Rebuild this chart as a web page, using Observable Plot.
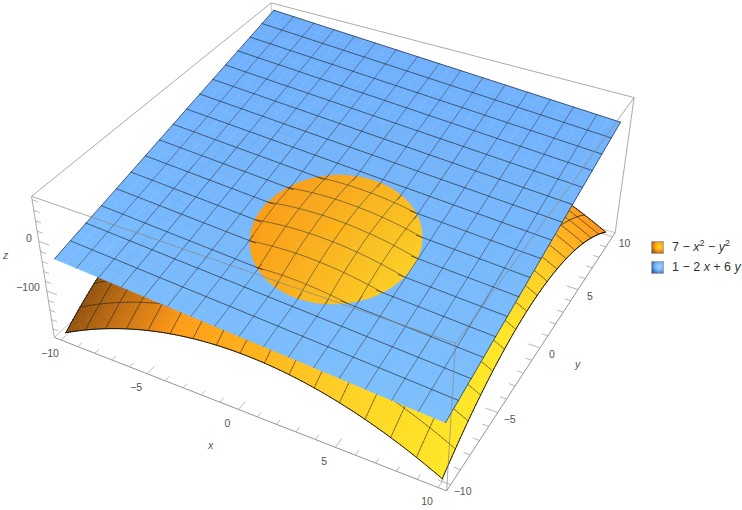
<!DOCTYPE html>
<html><head><meta charset="utf-8">
<script src="https://cdn.jsdelivr.net/npm/d3@7"></script>
<script src="https://cdn.jsdelivr.net/npm/@observablehq/plot@0.6"></script>
<style>
html,body{margin:0;padding:0;background:#fff}
#wrap{position:relative;width:742px;height:510px;overflow:hidden}
#legend{position:absolute;left:651px;top:237px;font:12.5px "Liberation Sans",Arial,sans-serif;color:#333}
.row{display:flex;align-items:center;height:20px;white-space:nowrap}
.sw{width:13px;height:13px;margin-right:8px;border:.5px solid #aaa;box-sizing:border-box}
.row i{font-style:italic}
.row sup{font-size:9px;line-height:0;vertical-align:5px}
</style></head><body><div id="wrap"><div id="legend">
<div class="row"><span class="sw" style="background:radial-gradient(circle at 65% 40%,#ffe020 0,#ff9c14 45%,#6a3c06 100%)"></span><span>7 − <i>x</i><sup>2</sup> − <i>y</i><sup>2</sup></span></div>
<div class="row"><span class="sw" style="background:radial-gradient(circle at 65% 40%,#a8dcff 0,#6fb0ff 45%,#1d3c78 100%)"></span><span>1 − 2 <i>x</i> + 6 <i>y</i></span></div>
</div></div>
<script>
// ---- data ----
const meshCount = 16;
const xyMajor = [-10, -5, 0, 5, 10];
const xyMinor = d3.range(-10, 10.5, 1);
const zMajor = [0, -100];
const zMinor = [-180,-160,-140,-120,-100,-80,-60,-40,-20,0,20,40,60,80];
const boxXY = 10.4, zLow = -198.5, zTop = 86.5;
const fOrange = (x, y) => 7 - x*x - y*y;   // from the legend
const fBlue = (x, y) => 1 - 2*x + 6*y;     // from the legend
// reference points: x, y, z, seen at px, py (camera calibration)
const calib = [
 [-10.4,-10.4,-198.5,53,337],[-10.4,-10.4,86.5,31,195.7],
 [10.4,-10.4,-198.5,445.7,490],[10.4,-10.4,86.5,455,343.3],
 [10.4,10.4,-198.5,615,232.3],[10.4,10.4,86.5,633.3,96.7],
 [-10.4,10.4,86.5,270.7,2.3],
 [-10,-10,-193,65.7,332.3],[10,-10,-193,442.3,478.3],[10,10,-193,605,231.7],
 [-10,-10,-39,54.3,258.3],[10,-10,-79,445,422.3],[10,10,41,620,121.7],[-10,10,81,273.3,10]
];
// ---- camera by least squares ----
function solve(A, b){
  const n=b.length, M=A.map((r,i)=>[...r,b[i]]);
  for(let i=0;i<n;i++){
    let p=i; for(let k=i+1;k<n;k++) if(Math.abs(M[k][i])>Math.abs(M[p][i])) p=k;
    [M[i],M[p]]=[M[p],M[i]];
    for(let k=i+1;k<n;k++){const f=M[k][i]/M[i][i]; for(let j=i;j<=n;j++) M[k][j]-=f*M[i][j];}
  }
  const s=Array(n).fill(0);
  for(let i=n-1;i>=0;i--){let v=M[i][n]; for(let j=i+1;j<n;j++) v-=M[i][j]*s[j]; s[i]=v/M[i][i];}
  return s;
}
const rows=[],rhs=[];
for(const [x,y,z,u,v] of calib){
  const X=x/10,Y=y/10,Z=z/100,U=u/742,V=v/510;
  rows.push([X,Y,Z,1,0,0,0,0,-U*X,-U*Y,-U*Z]);rhs.push(U);
  rows.push([0,0,0,0,X,Y,Z,1,-V*X,-V*Y,-V*Z]);rhs.push(V);
}
const AtA=d3.range(11).map(i=>d3.range(11).map(j=>d3.sum(rows,r=>r[i]*r[j])));
const Atb=d3.range(11).map(i=>d3.sum(rows,(r,k)=>r[i]*rhs[k]));
const c=solve(AtA,Atb);
const W=(x,y,z)=>c[8]*x/10+c[9]*y/10+c[10]*z/100+1;
const P=(x,y,z)=>{const X=x/10,Y=y/10,Z=z/100,w=c[8]*X+c[9]*Y+c[10]*Z+1;
  return {px:742*(c[0]*X+c[1]*Y+c[2]*Z+c[3])/w, py:510*(c[4]*X+c[5]*Y+c[6]*Z+c[7])/w};};
// ---- colours ----
const ramp=d3.scaleLinear().domain([-10,-5,0,5,10]).range(["#ff8a0e","#ff9210","#ffac16","#ffd020","#ffe622"]).clamp(true);
function orangeColor(x,y){
  const g=1.2*Math.max(0,y+3)*Math.min(1,Math.max(0,(x+2)/12))**2;
  const base=d3.rgb(ramp(x-g));
  const d=Math.min(1,0.56+0.44*(x+10)/6.5);
  return d3.rgb(base.r*d,base.g*d,base.b*d).formatHex();
}
const blueRamp=d3.scaleLinear().domain([-79,81]).range(["#7dc0ff","#6eaefc"]);
const blueColor=(x,y)=>blueRamp(fBlue(x,y));
// ---- geometry through the camera ----
let id=0;
function quad(out,corners,color){const k=id++;for(const [x,y,z] of corners) out.push({...P(x,y,z),id:k,color});}
const fine=128, step=20/fine;
const zs=d3.range(0,fine+1).map(i=>-10+i*step);
// orange surface: filled cells and mesh segments painted far to near, so folded-away mesh stays hidden
const items=[];
const dW=(Math.abs(c[8])+Math.abs(c[9]))*step/10+Math.abs(c[10])*20*step/100;
for(let i=0;i<fine;i++)for(let j=0;j<fine;j++){
  const x=zs[i],y=zs[j],s=step,mx=x+s/2,my=y+s/2,col=orangeColor(mx,my);
  items.push({key:W(mx,my,fOrange(mx,my)),corners:[[x,y],[x+s,y],[x+s,y+s],[x,y+s]],fill:col,stroke:col,sw:.5});
}
const gridVals=d3.range(0,meshCount+1).map(i=>-10+20*i/meshCount);
for(const m of gridVals){
  const border=m===-10||m===10;
  const stroke=border?"rgba(17,17,17,1)":"rgba(34,34,34,.65)",sw=border?.9:.8;
  for(let i=0;i<fine;i++){
    const a=zs[i],bb=zs[i+1],mid=(a+bb)/2;
    items.push({key:W(m,mid,fOrange(m,mid))-2*dW,corners:[[m,a],[m,bb]],fill:"none",stroke,sw});
    items.push({key:W(mid,m,fOrange(mid,m))-2*dW,corners:[[a,m],[bb,m]],fill:"none",stroke,sw});
  }
}
items.sort((a,b)=>b.key-a.key);
const orangePts=[];
for(const it of items){const k=id++;for(const [x,y] of it.corners) orangePts.push({...P(x,y,fOrange(x,y)),id:k,fill:it.fill,stroke:it.stroke,sw:it.sw});}
const bluePts=[];
const bn=32,bs=20/bn;
for(let i=0;i<bn;i++)for(let j=0;j<bn;j++){
  const x=-10+i*bs,y=-10+j*bs,s=bs;
  quad(bluePts,[[x,y,fBlue(x,y)],[x+s,y,fBlue(x+s,y)],[x+s,y+s,fBlue(x+s,y+s)],[x,y+s,fBlue(x,y+s)]],blueColor(x+s/2,y+s/2));}
// the part of the orange surface above the plane: disc (x-1)^2+(y+3)^2<16
const capPts=[];
const nr=24,nt=90;
for(let i=0;i<nr;i++)for(let j=0;j<nt;j++){
  const r0=4*i/nr,r1=4*(i+1)/nr,t0=2*Math.PI*j/nt,t1=2*Math.PI*(j+1)/nt;
  const pt=(r,t)=>{const x=1+r*Math.cos(t),y=-3+r*Math.sin(t);return [x,y,fOrange(x,y)];};
  const rm=(r0+r1)/2,tm=(t0+t1)/2;
  quad(capPts,[pt(r0,t0),pt(r1,t0),pt(r1,t1),pt(r0,t1)],orangeColor(1+rm*Math.cos(tm),-3+rm*Math.sin(tm)));
}
const meshVals=gridVals.slice(1,-1);
const ts=d3.range(0,1.0001,1/60);
function curve(out,fn){const k=id++;ts.forEach(t=>{const [x,y,z]=fn(t);out.push({...P(x,y,z),id:k});});}
const lerp=t=>-10+20*t;
const blueMeshX=[],blueMeshY=[],capMeshX=[],capMeshY=[],blueEdge=[];
const overlap=0.3; // plane mesh runs a little way into the disc, as in the reference
for(const m of meshVals){
  const pieces=(off,mid)=>{
    if(Math.abs(off)>=4) return [[-10,10]];
    const h=Math.sqrt(16-off*off), r=Math.max(0,h-overlap); return [[-10,mid-r],[mid+r,10]];
  };
  for(const [a,b] of pieces(m-1,-3)) curve(blueMeshX,t=>{const y=a+(b-a)*t;return [m,y,fBlue(m,y)];});
  for(const [a,b] of pieces(m+3,1)) curve(blueMeshY,t=>{const x=a+(b-a)*t;return [x,m,fBlue(x,m)];});
  if(Math.abs(m-1)<4){const h=Math.sqrt(16-(m-1)**2);curve(capMeshX,t=>{const y=-3-h+2*h*t;return [m,y,fOrange(m,y)];});}
  if(Math.abs(m+3)<4){const h=Math.sqrt(16-(m+3)**2);curve(capMeshY,t=>{const x=1-h+2*h*t;return [x,m,fOrange(x,m)];});}
}
curve(blueEdge,t=>[-10,lerp(t),fBlue(-10,lerp(t))]);
curve(blueEdge,t=>[10,lerp(t),fBlue(10,lerp(t))]);
curve(blueEdge,t=>[lerp(t),10,fBlue(lerp(t),10)]);
// box edges
const b=boxXY;
const seg=(a,bb)=>{const p=P(...a),q=P(...bb);return {x1:p.px,y1:p.py,x2:q.px,y2:q.py};};
const backEdges=[seg([-b,-b,zLow],[-b,b,zLow]),seg([-b,b,zLow],[b,b,zLow]),seg([-b,b,zLow],[-b,b,zTop])];
const axisEdges=[seg([-b,-b,zLow],[b,-b,zLow]),seg([b,-b,zLow],[b,b,zLow])];
const frontEdges=[seg([-b,-b,zLow],[-b,-b,zTop]),seg([-b,-b,zTop],[b,-b,zTop]),seg([b,-b,zTop],[b,b,zTop]),
  seg([b,b,zTop],[-b,b,zTop]),seg([-b,b,zTop],[-b,-b,zTop]),seg([b,-b,zLow],[b,-b,zTop]),seg([b,b,zLow],[b,b,zTop])];
const tick=[];
for(const v of xyMinor){const l=xyMajor.includes(v)?0.6:0.32;
  tick.push(seg([v,-b,zLow],[v,-b+l,zLow]));tick.push(seg([b,v,zLow],[b-l,v,zLow]));}
for(const v of zMinor){const l=zMajor.includes(v)?0.6:0.32;tick.push(seg([-b,-b,v],[-b+l,-b,v]));}
const fmt=v=>v<0?"−"+(-v):""+v;
const xLabels=xyMajor.map(v=>({...P(v,-b,zLow),t:fmt(v)}));
const yLabels=xyMajor.map(v=>({...P(b,v,zLow),t:fmt(v)}));
const zLabels=zMajor.map(v=>({...P(-b,-b,v),t:fmt(v)}));
const axisNames=[{px:210,py:445,t:"x"},{px:577,py:364,t:"y"},{px:5,py:255,t:"z"}];
const textStyle={x:"px",y:"py",text:"t",fontSize:10.5,fill:"#555",fontFamily:"Liberation Sans"};
const edge={x1:"x1",y1:"y1",x2:"x2",y2:"y2"}, ln={x:"px",y:"py",z:"id"};
const plot=Plot.plot({width:742,height:510,margin:0,
 x:{domain:[0,742],range:[0,742],axis:null},y:{domain:[0,510],range:[0,510],axis:null},color:{type:"identity"},
 marks:[
  Plot.link(backEdges,{...edge,stroke:"#bbb",strokeWidth:.8}),
  Plot.link(axisEdges,{...edge,stroke:"#888",strokeWidth:.9}),
  Plot.link(tick,{...edge,stroke:"#999",strokeWidth:.7}),
  Plot.line(orangePts,{...ln,fill:"fill",stroke:"stroke",strokeWidth:"sw"}),
  Plot.line(bluePts,{...ln,fill:"color",stroke:"color",strokeWidth:.5}),
  Plot.line(capPts,{...ln,fill:"color",stroke:"color",strokeWidth:.5}),
  Plot.line(capMeshX,{...ln,stroke:"#333",strokeOpacity:.7,strokeWidth:.8}),
  Plot.line(capMeshY,{...ln,stroke:"#333",strokeOpacity:.7,strokeWidth:.8}),
  Plot.line(blueMeshX,{...ln,stroke:"#33415c",strokeOpacity:.7,strokeWidth:.85}),
  Plot.line(blueMeshY,{...ln,stroke:"#1e2636",strokeOpacity:.8,strokeWidth:.85}),
  Plot.line(blueEdge,{...ln,stroke:"#1a2a44",strokeOpacity:.8,strokeWidth:.9}),
  Plot.link(frontEdges,{...edge,stroke:"#888",strokeOpacity:.8,strokeWidth:.9}),
  Plot.text(xLabels,{...textStyle,dx:-11,dy:14}),
  Plot.text(yLabels,{...textStyle,dx:12,dy:7}),
  Plot.text(zLabels,{...textStyle,dx:-7,dy:-3,textAnchor:"end"}),
  Plot.text(axisNames,{...textStyle,fontStyle:"italic"})
 ]});
document.getElementById("wrap").prepend(plot);
</script></body></html>
